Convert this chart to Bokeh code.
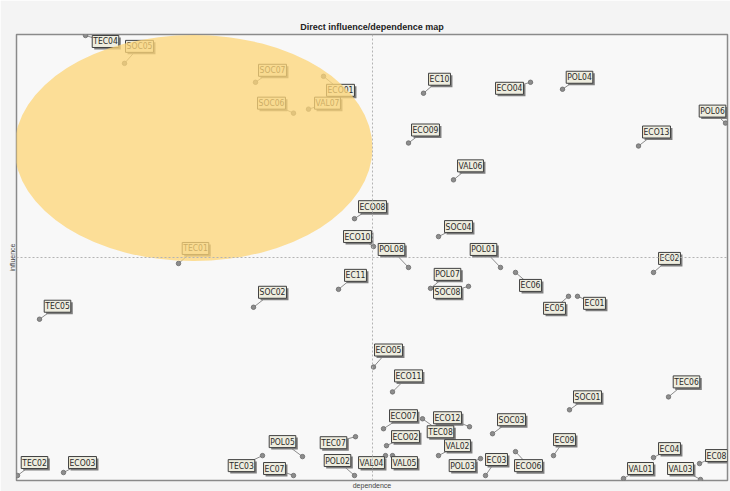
from bokeh.plotting import figure
from bokeh.models import Range1d, Span, FixedTicker
from bokeh.embed import file_html
from bokeh.resources import INLINE
from bokeh.core.properties import value

# ---- data (dependence, influence) ----
names = ["TEC04", "SOC05", "SOC07", "ECO01", "SOC06", "VAL07", "EC10", "ECO04", "POL04", "POL06",
         "ECO09", "ECO13", "VAL06", "ECO08", "SOC04", "ECO10", "POL08", "POL01", "TEC01", "EC11",
         "EC02", "EC06", "POL07", "SOC08", "SOC02", "TEC05", "EC05", "EC01", "ECO05", "ECO11",
         "TEC06", "SOC01", "ECO07", "ECO12", "TEC08", "SOC03", "ECO02", "VAL02", "EC09", "EC04",
         "EC08", "VAL04", "VAL05", "EC03", "POL03", "ECO06", "VAL01", "VAL03", "TEC02", "ECO03",
         "POL05", "TEC07", "TEC03", "EC07", "POL02"]
dependence = [69, 108, 239, 307, 277, 292, 407, 514, 546, 709,
              392, 622, 437, 338, 422, 357, 392, 484, 162, 322,
              637, 499, 414, 452, 237, 23, 552, 561, 357, 376,
              652, 553, 367, 453, 406, 476, 370, 422, 537, 637,
              683, 369, 376, 469, 464, 499, 607, 684, 1, 47,
              286, 339, 246, 277, 338]
influence = [447, 419, 400, 406, 369, 373, 389, 400, 393, 359,
             339, 336, 302, 263, 245, 235, 214, 214, 218, 192,
             209, 209, 193, 195, 174, 162, 185, 185, 114, 89,
             84, 71, 52, 54, 62, 47, 35, 25, 25, 23,
             17, 25, 25, 5, 22, 29, 2, 1, 5, 8,
             24, 44, 25, 5, 5]
# label box offsets from the point, in pixels (right, up)
lab_dx = [20, 15, 17, 17, -22, 19, 16, -21, 17, -13,
          17, 18, 17, 18, 20, -16, -17, -17, 17, 17,
          16, 15, 17, -21, 19, 18, -14, 17, 15, 16,
          18, 18, 20, -22, 18, 19, 19, 19, 11, 16,
          17, -14, 12, 11, -18, 13, 17, -20, 17, 19,
          -20, -22, -21, -19, -17]
lab_dy = [-6, 17, 12, -14, 10, 6, 14, -6, 12, 12,
          13, 14, 14, 12, 10, 10, 18, 18, 15, 14,
          14, -13, 14, -6, 15, 13, -12, -7, 17, 16,
          15, 13, 13, 9, -13, 14, 9, 10, 16, 9,
          8, -7, -7, 16, -7, -14, 10, 11, 13, 10,
          15, -6, -10, 7, 15]
mean_dep = 356
mean_inf = 224
x_max = 711
y_max = 448
# highlighted zone (centre, width, height in data units)
zone = dict(x=177, y=334, w=358, h=227)

W, H = 730, 491
ML, MR, MT, MB = 16, 3, 34, 9
fw, fh = W - ML - MR, H - MT - MB
sx, sy = x_max / fw, y_max / fh

p = figure(width=W, height=H, x_range=Range1d(0, x_max), y_range=Range1d(0, y_max),
           output_backend="svg", toolbar_location=None,
           min_border_left=ML, min_border_right=MR, min_border_top=MT, min_border_bottom=MB,
           title="Direct influence/dependence map")
p.grid.visible = False
p.outline_line_color = "#8a8a8a"
p.outline_line_width = 1.5
p.background_fill_color = "#f8f8f8"
p.border_fill_color = "#f4f4f4"

p.title.align = "center"
p.title.text_font = "Liberation Sans"
p.title.text_font_size = "9px"
p.title.text_color = "#222222"
p.title.standoff = 6

for ax, lab in ((p.xaxis, "dependence"), (p.yaxis, "influence")):
    ax.ticker = FixedTicker(ticks=[])
    ax.axis_line_color = None
    ax.major_tick_out = 0
    ax.minor_tick_out = 0
    ax.major_tick_in = 0
    ax.minor_tick_in = 0
    ax.major_label_standoff = 0
    ax.axis_label = lab
    ax.axis_label_standoff = 1
    ax.axis_label_text_font = "Liberation Sans"
    ax.axis_label_text_font_size = "7px"
    ax.axis_label_text_font_style = "normal"
    ax.axis_label_text_color = "#444444"

p.add_layout(Span(location=mean_dep, dimension="height", line_color="#b4b4b4",
                  line_dash="2 2", line_width=1))
p.add_layout(Span(location=mean_inf, dimension="width", line_color="#b4b4b4",
                  line_dash="2 2", line_width=1))

lx = [d + dx * sx for d, dx in zip(dependence, lab_dx)]
ly = [i + dy * sy for i, dy in zip(influence, lab_dy)]
yoff = [-dy for dy in lab_dy]

p.segment(x0=dependence, y0=influence, x1=lx, y1=ly, line_color="#8c8c8c", line_width=1)
p.scatter(dependence, influence, size=4.5, fill_color="#8d8d8d", line_color="#6a6a6a", line_width=0.8)

font = value("'Liberation Sans Narrow', 'DejaVu Sans Condensed', 'Arial Narrow', 'Liberation Sans', sans-serif")
# shadow
p.text(x=dependence, y=influence, text=names, x_offset=[d + 2 for d in lab_dx], y_offset=[o + 2 for o in yoff],
       text_font=font, text_font_size="8.5px", text_color="#000000", text_alpha=0.0,
       text_align="center", text_baseline="middle",
       background_fill_color="#7e7e7e", padding=1, border_line_color=None)
# label box
p.text(x=dependence, y=influence, text=names, x_offset=lab_dx, y_offset=yoff,
       text_font=font, text_font_size="8.5px", text_color="#2a2a2a",
       text_align="center", text_baseline="middle",
       background_fill_color="#eeeddf", padding=1,
       border_line_color="#404040", border_line_width=1)

p.ellipse(x=zone["x"], y=zone["y"], width=zone["w"], height=zone["h"],
          fill_color="#fdd577", fill_alpha=0.76, line_color=None)

open("out.html", "w").write(file_html(p, INLINE))
